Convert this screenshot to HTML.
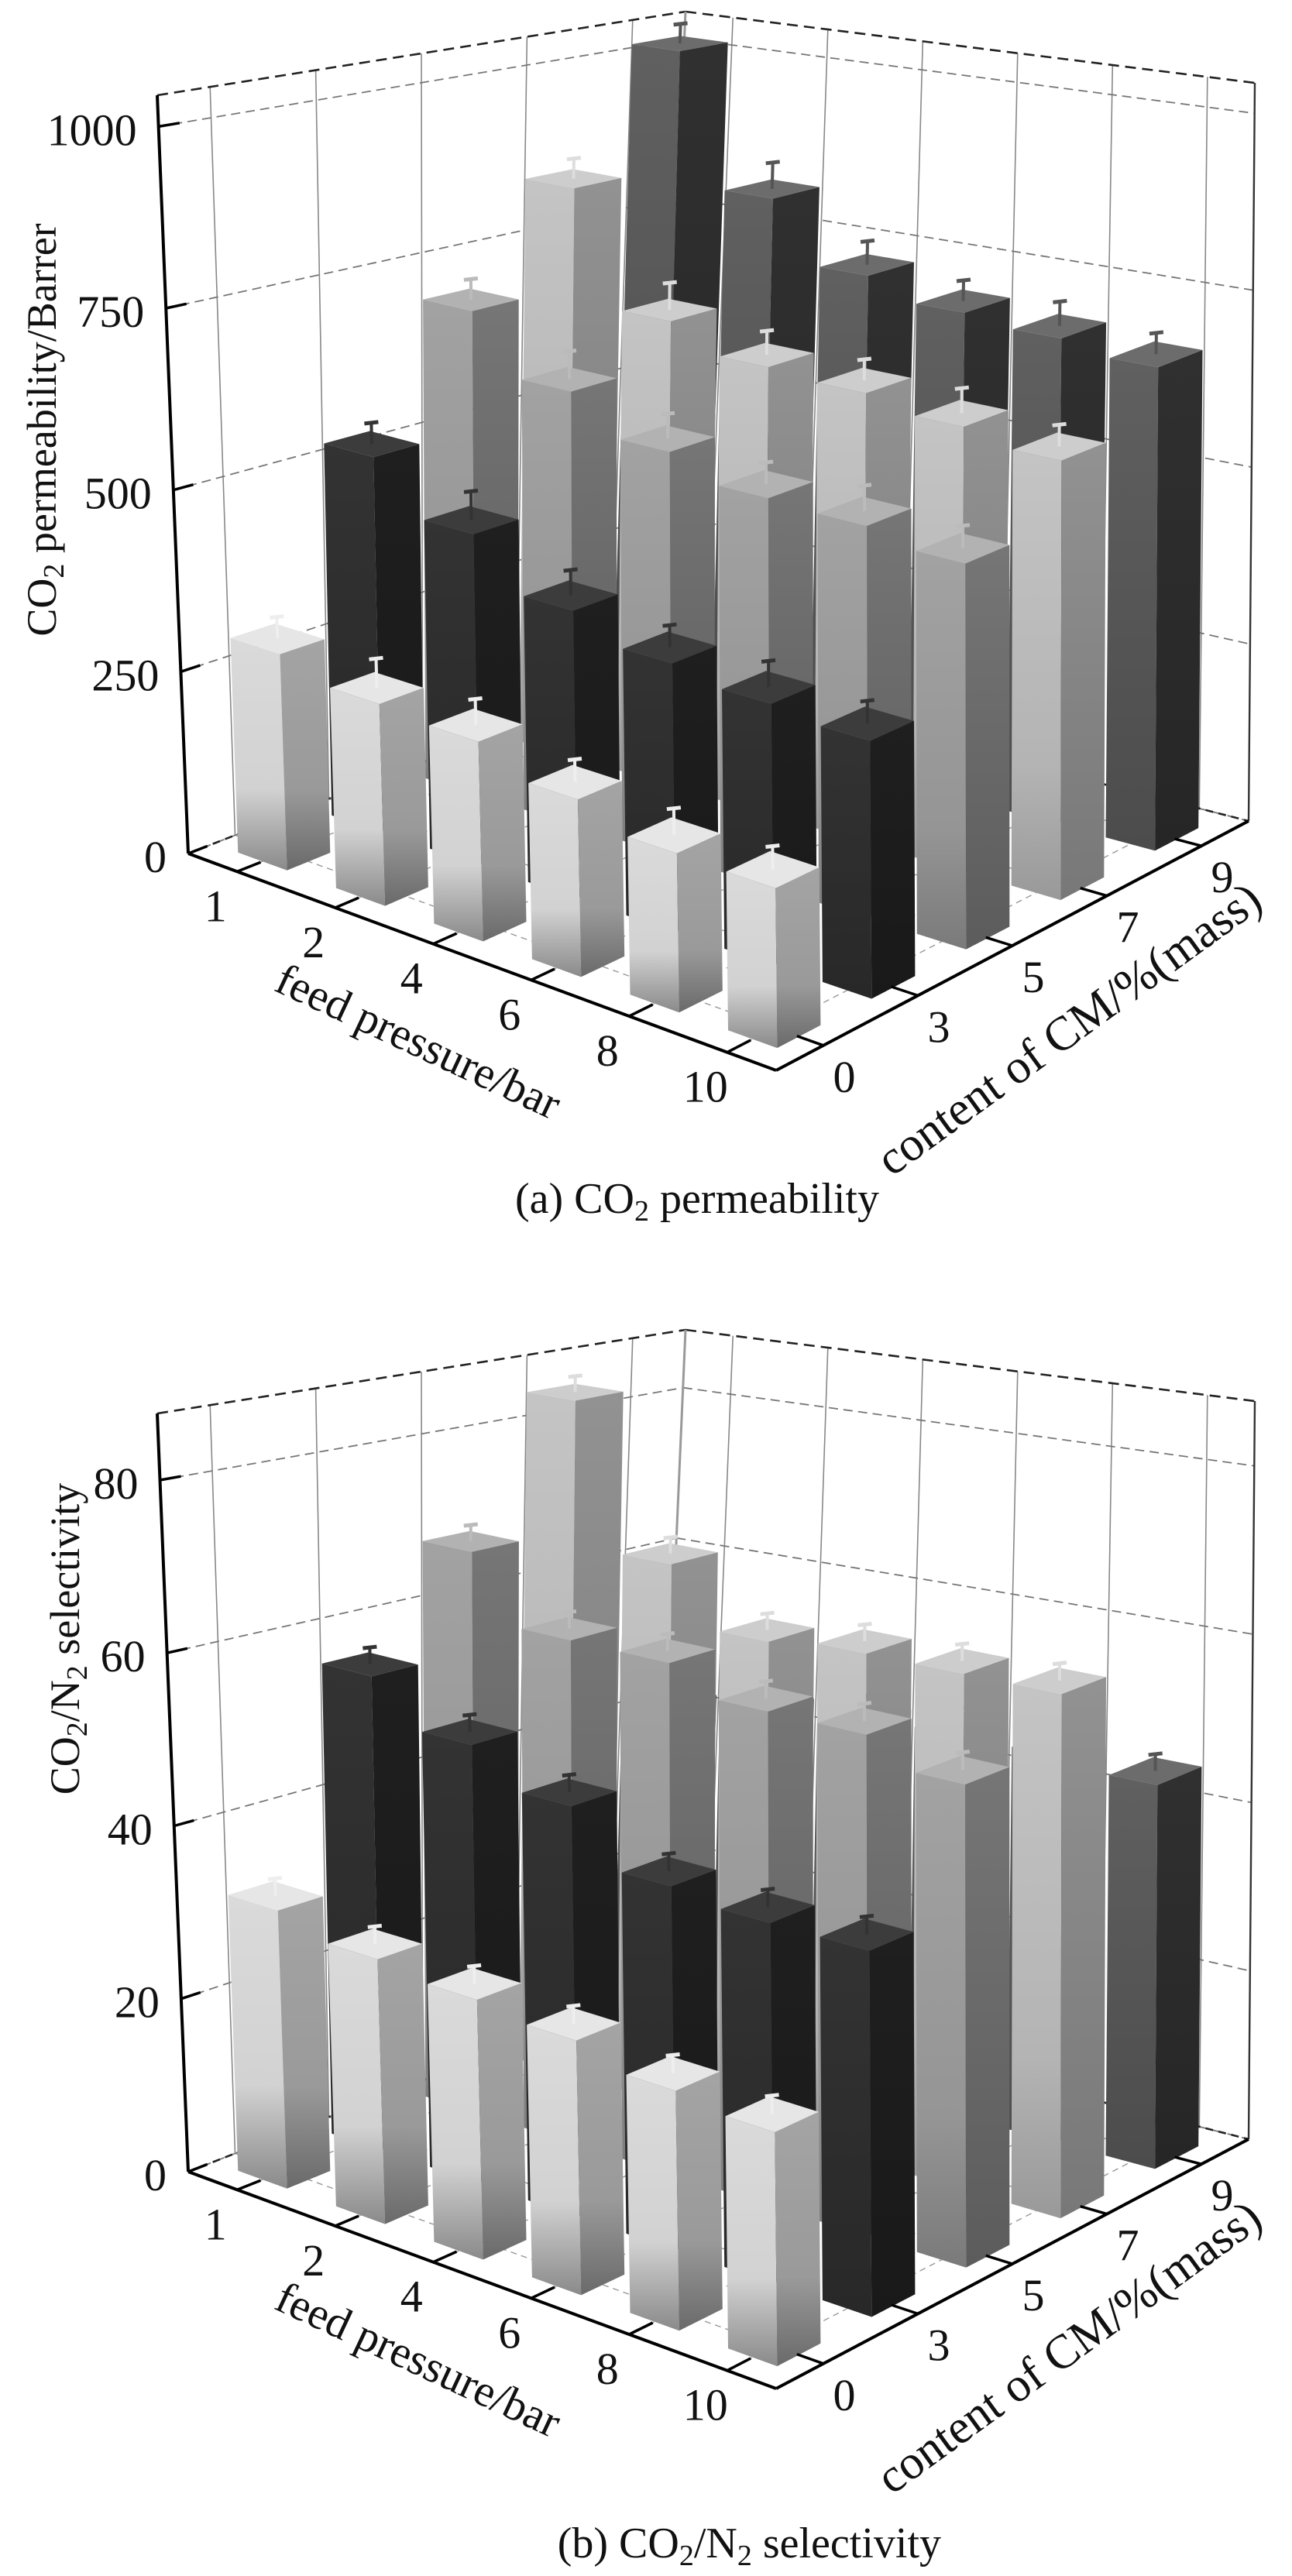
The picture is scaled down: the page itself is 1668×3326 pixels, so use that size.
<!DOCTYPE html>
<html>
<head>
<meta charset="utf-8">
<style>
html,body{margin:0;padding:0;background:#fff;}
svg{display:block;}
text{font-family:"Liberation Serif","DejaVu Serif",serif;fill:#111;}
</style>
</head>
<body>
<svg id="fig" xmlns="http://www.w3.org/2000/svg" width="1668" height="3326" viewBox="0 0 1668 3326">
<defs>
  <linearGradient id="g0" x1="0" y1="0" x2="0" y2="1"><stop offset="0" stop-color="#dadada"/><stop offset="0.65" stop-color="#d2d2d2"/><stop offset="1" stop-color="#8a8a8a"/></linearGradient>
  <linearGradient id="g0r" x1="0" y1="0" x2="0" y2="1"><stop offset="0" stop-color="#a4a4a4"/><stop offset="0.65" stop-color="#9a9a9a"/><stop offset="1" stop-color="#6a6a6a"/></linearGradient>
  <linearGradient id="g1" x1="0" y1="0" x2="0" y2="1"><stop offset="0" stop-color="#333"/><stop offset="1" stop-color="#282828"/></linearGradient>
  <linearGradient id="g1r" x1="0" y1="0" x2="0" y2="1"><stop offset="0" stop-color="#1f1f1f"/><stop offset="1" stop-color="#191919"/></linearGradient>
  <linearGradient id="g2" x1="0" y1="0" x2="0" y2="1"><stop offset="0" stop-color="#a2a2a2"/><stop offset="0.7" stop-color="#959595"/><stop offset="1" stop-color="#7a7a7a"/></linearGradient>
  <linearGradient id="g2r" x1="0" y1="0" x2="0" y2="1"><stop offset="0" stop-color="#767676"/><stop offset="1" stop-color="#5c5c5c"/></linearGradient>
  <linearGradient id="g3" x1="0" y1="0" x2="0" y2="1"><stop offset="0" stop-color="#c4c4c4"/><stop offset="0.7" stop-color="#b4b4b4"/><stop offset="1" stop-color="#999"/></linearGradient>
  <linearGradient id="g3r" x1="0" y1="0" x2="0" y2="1"><stop offset="0" stop-color="#929292"/><stop offset="1" stop-color="#787878"/></linearGradient>
  <linearGradient id="g4" x1="0" y1="0" x2="0" y2="1"><stop offset="0" stop-color="#606060"/><stop offset="1" stop-color="#4c4c4c"/></linearGradient>
  <linearGradient id="g4r" x1="0" y1="0" x2="0" y2="1"><stop offset="0" stop-color="#303030"/><stop offset="1" stop-color="#262626"/></linearGradient>
</defs>
<text x="665" y="1566" font-size="56">(a) CO<tspan font-size="38" dy="10">2</tspan><tspan dy="-10"> permeability</tspan></text>
<text x="1215" y="3302" font-size="56" text-anchor="end">(b) CO<tspan font-size="38" dy="10">2</tspan><tspan dy="-10">/N</tspan><tspan font-size="38" dy="10">2</tspan><tspan dy="-10"> selectivity</tspan></text>
</svg>
<script>
// ---- data ----
const pressures = ['1','2','4','6','8','10'];
const contents = ['0','3','5','7','9'];
const permTicks = [0,250,500,750,1000];
const selTicks = [0,20,40,60,80];
// CO2 permeability (Barrer) by CM content row, across feed pressures
const permCM0 = [296,272,265,232,205,203];
const permCM3 = [527,458,392,360,345,335];
const permCM5 = [697,615,564,534,530,513];
const permCM7 = [842,675,639,632,615,598];
const permCM9 = [1017,817,728,700,689,674];
const permErr = [30,40,35,30,35,30];
// CO2/N2 selectivity
const selCM0 = [32,30,29,28,26,25];
const selCM3 = [56,51,47,41,40,40];
const selCM5 = [68,60,60,57,57,54];
const selCM7 = [84,66,59,60,60,60];
const selCM9 = [42,44,45,46,46,45];
const selErr = [2,2,2,2,2,2];

const NS = 'http://www.w3.org/2000/svg';
const svg = document.getElementById('fig');
const faceL = ['url(#g0)','url(#g1)','url(#g2)','url(#g3)','url(#g4)'];
const faceR = ['url(#g0r)','url(#g1r)','url(#g2r)','url(#g3r)','url(#g4r)'];
const faceT = ['#e6e6e6','#3c3c3c','#b2b2b2','#cdcdcd','#6c6c6c'];
const errC = ['#eee','#333','#bbb','#ddd','#555'];

const GL = {x:243,y:1102}, GF = {x:1002,y:1382}, GB = {x:848,y:866}, GR = {x:1612,y:1060};
const VL = {x:-40,y:-979}, VF = {x:-10,y:-1070}, VB = {x:37,y:-851}, VR = {x:8,y:-953};

function bil(a,f,b,r,u,v){ return (1-u)*(1-v)*a + u*(1-v)*f + (1-u)*v*b + u*v*r; }
function proj(ch,u,v,val){
  const h = val/ch.vmax;
  const x = bil(GL.x,GF.x,GB.x,GR.x,u,v) + h*bil(VL.x,VF.x,VB.x,VR.x,u,v);
  const y = bil(GL.y,GF.y,GB.y,GR.y,u,v) + h*bil(VL.y,VF.y,VB.y,VR.y,u,v) + ch.oy;
  return [x,y];
}
function mk(tag, attrs, parent){
  const e = document.createElementNS(NS, tag);
  for (const k in attrs) e.setAttribute(k, attrs[k]);
  (parent||svg).appendChild(e);
  return e;
}
function line(g,a,b,stroke,w,dash){
  const e = mk('line',{x1:a[0].toFixed(1),y1:a[1].toFixed(1),x2:b[0].toFixed(1),y2:b[1].toFixed(1),stroke:stroke,'stroke-width':w},g);
  if (dash) e.setAttribute('stroke-dasharray',dash);
  return e;
}
function poly(g,pts,fill){
  return mk('polygon',{points:pts.map(p=>p[0].toFixed(1)+','+p[1].toFixed(1)).join(' '),fill:fill,stroke:'none'},g);
}

function drawChart(ch){
  const g = mk('g',{});
  
  
  const P = (u,v,val)=>proj(ch,u,v,val);
  const top = ch.vmax;

  const grid = mk('g',{},g);
  
  
  for (let j=0;j<contents.length;j++){
    const v=(j+0.5)/contents.length;
    line(grid,P(0,v,0),P(0,v,top),'#888',1.6);
    line(grid,P(0,v,0),P(1,v,0),'#999',1.4,'8,6');
  }
  for (let i=0;i<pressures.length;i++){
    const u=(i+0.5)/pressures.length;
    line(grid,P(u,1,0),P(u,1,top),'#888',1.6);
    line(grid,P(u,0,0),P(u,1,0),'#999',1.4,'8,6');
  }
  ch.ticks.forEach(t=>{
    line(grid,P(0,0,t),P(0,1,t),'#777',1.8,'12,7');
    line(grid,P(0,1,t),P(1,1,t),'#777',1.8,'12,7');
  });
  line(grid,P(0,0,top),P(0,1,top),'#222',2.6,'14,8');
  line(grid,P(0,1,top),P(1,1,top),'#222',2.6,'14,8');
  line(grid,P(0,0,0),P(0,1,0),'#222',2.6,'10,7');
  line(grid,P(0,1,0),P(1,1,0),'#222',2.6,'10,7');
  line(grid,P(0,1,0),P(0,1,top),'#999',3);
  line(grid,P(1,1,0),P(1,1,top),'#333',2.4);

  const bars = mk('g',{},g);
  
  
  const du = 0.5/pressures.length/2, dv = 0.46/contents.length/2;
  for (let j=contents.length-1;j>=0;j--){
    for (let i=0;i<pressures.length;i++){
      const val = ch.rows[j][i];
      const uc=(i+0.5)/pressures.length, vc=(j+0.5)/contents.length;
      const u0=uc-du,u1=uc+du,v0=vc-dv,v1=vc+dv;
      const bg = mk('g',{},bars);
      
      
      poly(bg,[P(u0,v0,0),P(u1,v0,0),P(u1,v0,val),P(u0,v0,val)],faceL[j]);
      poly(bg,[P(u1,v0,0),P(u1,v1,0),P(u1,v1,val),P(u1,v0,val)],faceR[j]);
      poly(bg,[P(u0,v0,val),P(u1,v0,val),P(u1,v1,val),P(u0,v1,val)],faceT[j]);
      const e = ch.err[i];
      const a = P(uc,vc,val), b = P(uc,vc,val+e);
      const eb = line(bg,a,b,errC[j],4);
      
      
      line(bg,[b[0]-9,b[1]+1],[b[0]+9,b[1]-1],errC[j],5);
    }
  }

  const ax = mk('g',{},g);
  
  
  line(ax,P(0,0,0),P(0,0,top),'#000',4);
  line(ax,P(0,0,0),P(1,0,0),'#000',4);
  line(ax,P(1,0,0),P(1,1,0),'#000',4);
  ch.ticks.forEach(t=>{
    const a=P(0,0,t), b=P(0,0.04,t);
    line(ax,a,b,'#000',3.5);
    const lb = mk('text',{x:(a[0]-28).toFixed(1),y:(a[1]+24).toFixed(1),'font-size':58,'text-anchor':'end'},ax);
    lb.textContent = t;
    
    
  });
  pressures.forEach((p,i)=>{
    const u=(i+0.5)/pressures.length;
    const a=P(u,0,0), b=P(u,0.05,0);
    line(ax,a,b,'#000',3.5);
    const lb = mk('text',{x:(a[0]-28).toFixed(1),y:(a[1]+64).toFixed(1),'font-size':58,'text-anchor':'middle'},ax);
    lb.textContent = p;
    
    
  });
  contents.forEach((c,j)=>{
    const v=(j+0.5)/contents.length;
    const a=P(1,v,0), b=P(0.955,v,0);
    line(ax,a,b,'#000',3.5);
    const lb = mk('text',{x:(a[0]+27).toFixed(1),y:(a[1]+60).toFixed(1),'font-size':58,'text-anchor':'middle'},ax);
    lb.textContent = c;
    
    
  });

  const yt = mk('text',{x:0,y:0,'font-size':54,'text-anchor':'middle',transform:'translate('+ch.ytx+','+(ch.yty+ch.oy)+') rotate(-90)'},g);
  
  
  yt.innerHTML = ch.ytitle;
  const xt = mk('text',{x:0,y:0,'font-size':58,'text-anchor':'middle',transform:'translate(532,'+(1362+ch.oy)+') rotate(25)'},g);
  
  
  xt.textContent = 'feed pressure/bar';
  const zt = mk('text',{x:0,y:0,'font-size':62,'text-anchor':'middle',transform:'translate(1392,'+(1345+ch.oy)+') rotate(-36)'},g);
  
  
  zt.textContent = 'content of CM/%(mass)';
}

drawChart({name:'permeability-chart', oy:0, vmax:1043, ticks:permTicks,
  rows:[permCM0,permCM3,permCM5,permCM7,permCM9], err:permErr,
  ytx:72, yty:555,
  ytitle:'CO<tspan font-size="38" dy="10">2</tspan><tspan dy="-10"> permeability/Barrer</tspan>'});
drawChart({name:'selectivity-chart', oy:1702, vmax:87.7, ticks:selTicks,
  rows:[selCM0,selCM3,selCM5,selCM7,selCM9], err:selErr,
  ytx:102, yty:414,
  ytitle:'CO<tspan font-size="38" dy="10">2</tspan><tspan dy="-10">/N</tspan><tspan font-size="38" dy="10">2</tspan><tspan dy="-10"> selectivity</tspan>'});
</script>
</body>
</html>
